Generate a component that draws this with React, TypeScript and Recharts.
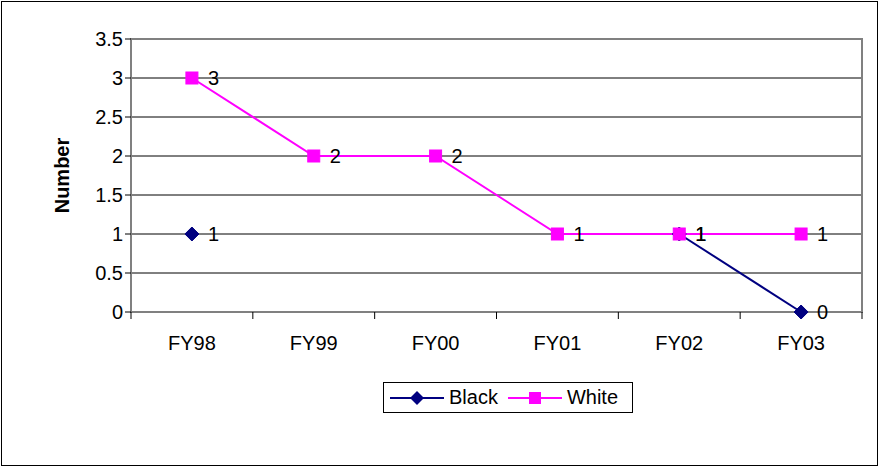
import React from 'react'
import { LineChart, Line, CartesianGrid, XAxis, YAxis, Legend, LabelList, ReferenceArea } from 'recharts'

const years = ['FY98', 'FY99', 'FY00', 'FY01', 'FY02', 'FY03']
const black = [1, null, null, null, 1, 0]
const white = [3, 2, 2, 1, 1, 1]
const yTicks = [0, 0.5, 1, 1.5, 2, 2.5, 3, 3.5]

const data = years.map((y, i) => ({ year: y, black: black[i], white: white[i] }))

const FONT = '"Liberation Sans", Arial, sans-serif'
const NAVY = '#000080'
const PINK = '#FF00FF'
const FS = 20

const Diamond = (props: any) => {
  const { cx, cy } = props
  if (cx == null || cy == null || props.value == null) return null
  const r = 7
  return <path d={`M${cx},${cy - r}L${cx + r},${cy}L${cx},${cy + r}L${cx - r},${cy}Z`} fill={NAVY} stroke={NAVY} />
}

const Square = (props: any) => {
  const { cx, cy } = props
  if (cx == null || cy == null || props.value == null) return null
  const r = 6
  return <rect x={cx - r} y={cy - r} width={2 * r} height={2 * r} fill={PINK} stroke={PINK} />
}

const PointLabel = (props: any) => {
  const { x, y, value } = props
  if (value == null) return null
  return (
    <text x={x + 16} y={y} dy={7} fontSize={FS} fill="#000" fontFamily={FONT}>
      {value}
    </text>
  )
}

// category tick: label in the middle, tick marks on the category boundaries (Excel style)
const CategoryTick = (props: any) => {
  const { x, y, payload, index } = props
  const half = payload.offset || 0
  return (
    <g>
      <line x1={x - half} y1={y} x2={x - half} y2={y + 7} stroke="#000" />
      {index === years.length - 1 && <line x1={x + half} y1={y} x2={x + half} y2={y + 7} stroke="#000" />}
      <text x={x} y={y + 38} textAnchor="middle" fontSize={FS} fill="#000" fontFamily={FONT}>
        {payload.value}
      </text>
    </g>
  )
}

const LegendBox = () => (
  <div style={{ display: 'flex', justifyContent: 'flex-start', paddingLeft: 383 }}>
    <div style={{ border: '1px solid #000', display: 'flex', alignItems: 'center', height: 29, width: 238, padding: '0 6px 0 4px', fontFamily: FONT, fontSize: FS, background: '#fff' }}>
      <svg width={58} height={16}>
        <line x1={2} y1={8} x2={56} y2={8} stroke={NAVY} strokeWidth={2} />
        <path d="M29,1L36,8L29,15L22,8Z" fill={NAVY} />
      </svg>
      <span style={{ marginLeft: 3, marginRight: 8 }}>Black</span>
      <svg width={58} height={16}>
        <line x1={2} y1={8} x2={56} y2={8} stroke={PINK} strokeWidth={2} />
        <rect x={23} y={2} width={12} height={12} fill={PINK} />
      </svg>
      <span style={{ marginLeft: 3 }}>White</span>
    </div>
  </div>
)

export default function App() {
  return (
    <div style={{ position: 'absolute', left: 0, top: 0, width: 879, height: 468, background: '#fff' }}>
      <div style={{ position: 'absolute', left: 1, top: 1, width: 875, height: 463, border: '1px solid #000' }} />
      <LineChart width={879} height={468} data={data} margin={{ top: 39, right: 17, left: 71, bottom: 95 }} style={{ fontFamily: FONT }}>
        <CartesianGrid vertical={false} stroke="#000" />
        <XAxis
          dataKey="year"
          scale="band"
          interval={0}
          tick={<CategoryTick />}
          tickLine={false}
          tickSize={0}
          tickMargin={0}
          axisLine={{ stroke: '#808080', strokeWidth: 2 }}
          height={30}
        />
        <YAxis
          domain={[0, 3.5]}
          ticks={yTicks}
          interval={0}
          width={60}
          tick={{ fill: '#000', fontSize: FS, fontFamily: FONT }}
          tickLine={{ stroke: '#000' }}
          tickSize={6}
          axisLine={{ stroke: '#808080', strokeWidth: 2 }}
          label={{ value: 'Number', angle: -90, position: 'insideLeft', dx: -14, style: { fontWeight: 'bold', fontSize: FS, fill: '#000', fontFamily: FONT, textAnchor: 'middle' } }}
        />
        <ReferenceArea y1={0} y2={3.5} fill="none" stroke="#808080" strokeWidth={2} ifOverflow="visible" />
        <Legend verticalAlign="bottom" content={<LegendBox />} wrapperStyle={{ bottom: 55, left: 0, width: 879 }} />
        <Line dataKey="black" name="Black" stroke={NAVY} strokeWidth={2} dot={<Diamond />} activeDot={false} connectNulls={false} isAnimationActive={false}>
          <LabelList dataKey="black" content={<PointLabel />} />
        </Line>
        <Line dataKey="white" name="White" stroke={PINK} strokeWidth={2} dot={<Square />} activeDot={false} isAnimationActive={false}>
          <LabelList dataKey="white" content={<PointLabel />} />
        </Line>
      </LineChart>
    </div>
  )
}
